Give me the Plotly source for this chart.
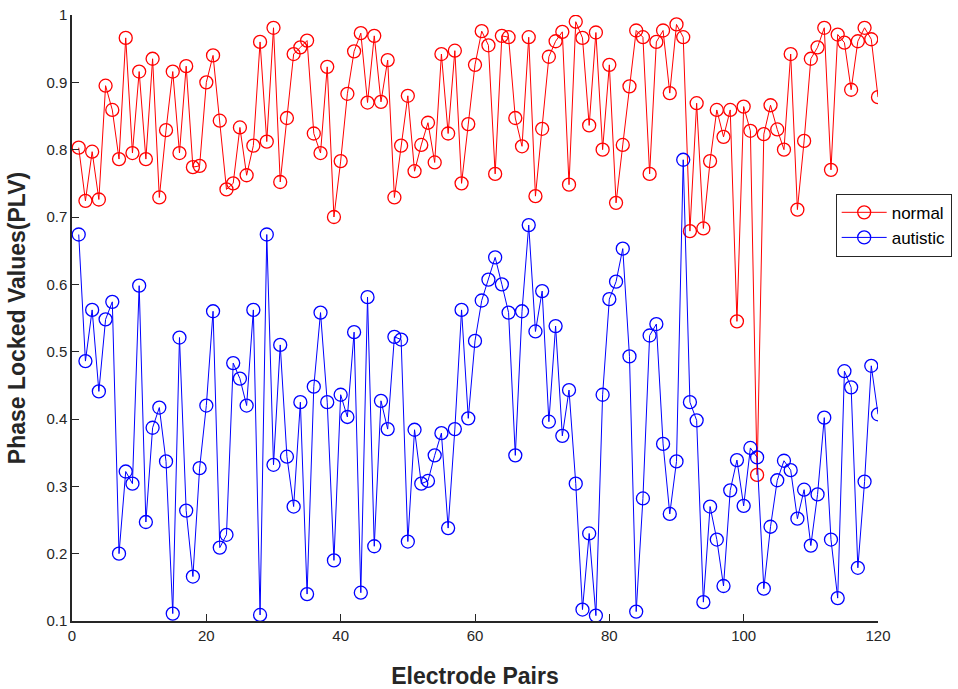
import plotly.graph_objects as go

pairs = list(range(1, 121))

normal = [
    0.803, 0.724, 0.797, 0.726, 0.895, 0.859, 0.786, 0.966, 0.795, 0.916,
    0.786, 0.935, 0.729, 0.829, 0.916, 0.795, 0.924, 0.774, 0.776, 0.900,
    0.940, 0.843, 0.741, 0.750, 0.833, 0.762, 0.806, 0.960, 0.812, 0.981,
    0.752, 0.847, 0.942, 0.952, 0.962, 0.824, 0.795, 0.923, 0.700, 0.783,
    0.883, 0.946, 0.973, 0.870, 0.969, 0.871, 0.933, 0.729, 0.806, 0.880,
    0.768, 0.807, 0.840, 0.781, 0.942, 0.824, 0.947, 0.750, 0.838, 0.926,
    0.976, 0.955, 0.764, 0.969, 0.967, 0.847, 0.805, 0.967, 0.731, 0.831,
    0.938, 0.961, 0.975, 0.748, 0.990, 0.966, 0.836, 0.974, 0.800, 0.926,
    0.721, 0.807, 0.894, 0.977, 0.967, 0.764, 0.960, 0.977, 0.884, 0.986,
    0.967, 0.679, 0.869, 0.683, 0.783, 0.859, 0.819, 0.859, 0.545, 0.864,
    0.828, 0.317, 0.823, 0.866, 0.830, 0.800, 0.942, 0.711, 0.813, 0.935,
    0.952, 0.981, 0.770, 0.971, 0.959, 0.889, 0.961, 0.981, 0.964, 0.878,
]

autistic = [
    0.674, 0.486, 0.562, 0.441, 0.548, 0.574, 0.200, 0.322, 0.304, 0.598,
    0.247, 0.387, 0.417, 0.337, 0.111, 0.521, 0.264, 0.166, 0.327, 0.420,
    0.560, 0.209, 0.228, 0.483, 0.460, 0.420, 0.562, 0.109, 0.674, 0.332,
    0.510, 0.344, 0.270, 0.425, 0.140, 0.448, 0.558, 0.425, 0.190, 0.436,
    0.403, 0.529, 0.142, 0.581, 0.211, 0.427, 0.385, 0.522, 0.518, 0.218,
    0.384, 0.304, 0.308, 0.346, 0.379, 0.238, 0.385, 0.562, 0.401, 0.516,
    0.576, 0.607, 0.640, 0.600, 0.558, 0.346, 0.560, 0.688, 0.530, 0.590,
    0.396, 0.538, 0.375, 0.443, 0.304, 0.117, 0.230, 0.108, 0.436, 0.578,
    0.604, 0.653, 0.493, 0.114, 0.282, 0.524, 0.541, 0.363, 0.259, 0.337,
    0.785, 0.425, 0.398, 0.128, 0.270, 0.221, 0.152, 0.294, 0.339, 0.271,
    0.357, 0.343, 0.148, 0.240, 0.309, 0.338, 0.324, 0.252, 0.295, 0.212,
    0.288, 0.402, 0.221, 0.134, 0.471, 0.447, 0.179, 0.307, 0.479, 0.407,
]

x_ticks = [0, 20, 40, 60, 80, 100, 120]
y_ticks = [0.1, 0.2, 0.3, 0.4, 0.5, 0.6, 0.7, 0.8, 0.9, 1]
y_tick_labels = ["0.1", "0.2", "0.3", "0.4", "0.5", "0.6", "0.7", "0.8", "0.9", "1"]

FONT = "Liberation Sans, Arial, sans-serif"
AX = "#262626"

fig = go.Figure()
fig.add_trace(go.Scatter(
    x=pairs, y=normal, name="normal", mode="lines+markers",
    line=dict(color="#ff0000", width=1),
    marker=dict(symbol="circle-open", size=13, color="#ff0000", line=dict(width=1.3)),
))
fig.add_trace(go.Scatter(
    x=pairs, y=autistic, name="autistic", mode="lines+markers",
    line=dict(color="#0000ff", width=1),
    marker=dict(symbol="circle-open", size=13, color="#0000ff", line=dict(width=1.3)),
))

fig.update_layout(
    width=958, height=689,
    margin=dict(l=72, r=80, t=15, b=68, autoexpand=False),
    paper_bgcolor="white", plot_bgcolor="white",
    font=dict(family=FONT, size=15, color=AX),
    showlegend=True,
    legend=dict(
        x=0.9475, y=0.705, xanchor="left", yanchor="top",
        bgcolor="white", bordercolor=AX, borderwidth=1,
        font=dict(family=FONT, size=17, color="#000000"),
        itemwidth=45, tracegroupgap=0,
    ),
    xaxis=dict(
        range=[0, 120], tickvals=x_ticks, ticktext=[str(v) for v in x_ticks],
        showgrid=False, zeroline=False, showline=True, linecolor=AX, linewidth=1.5,
        ticks="inside", ticklen=7, tickcolor=AX, tickwidth=1,
        tickfont=dict(family=FONT, size=15, color=AX),
        title=dict(text="<b>Electrode Pairs</b>", font=dict(family=FONT, size=23, color=AX), standoff=25),
        automargin=False, mirror=False,
    ),
    yaxis=dict(
        range=[0.1, 1], tickvals=y_ticks, ticktext=y_tick_labels,
        showgrid=False, zeroline=False, showline=True, linecolor=AX, linewidth=1.5,
        ticks="inside", ticklen=7, tickcolor=AX, tickwidth=1,
        tickfont=dict(family=FONT, size=15, color=AX),
        title=dict(text="<b>Phase Locked Values(PLV)</b>", font=dict(family=FONT, size=23, color=AX), standoff=14),
        automargin=False, mirror=False,
    ),
)

fig.write_html("out.html")
